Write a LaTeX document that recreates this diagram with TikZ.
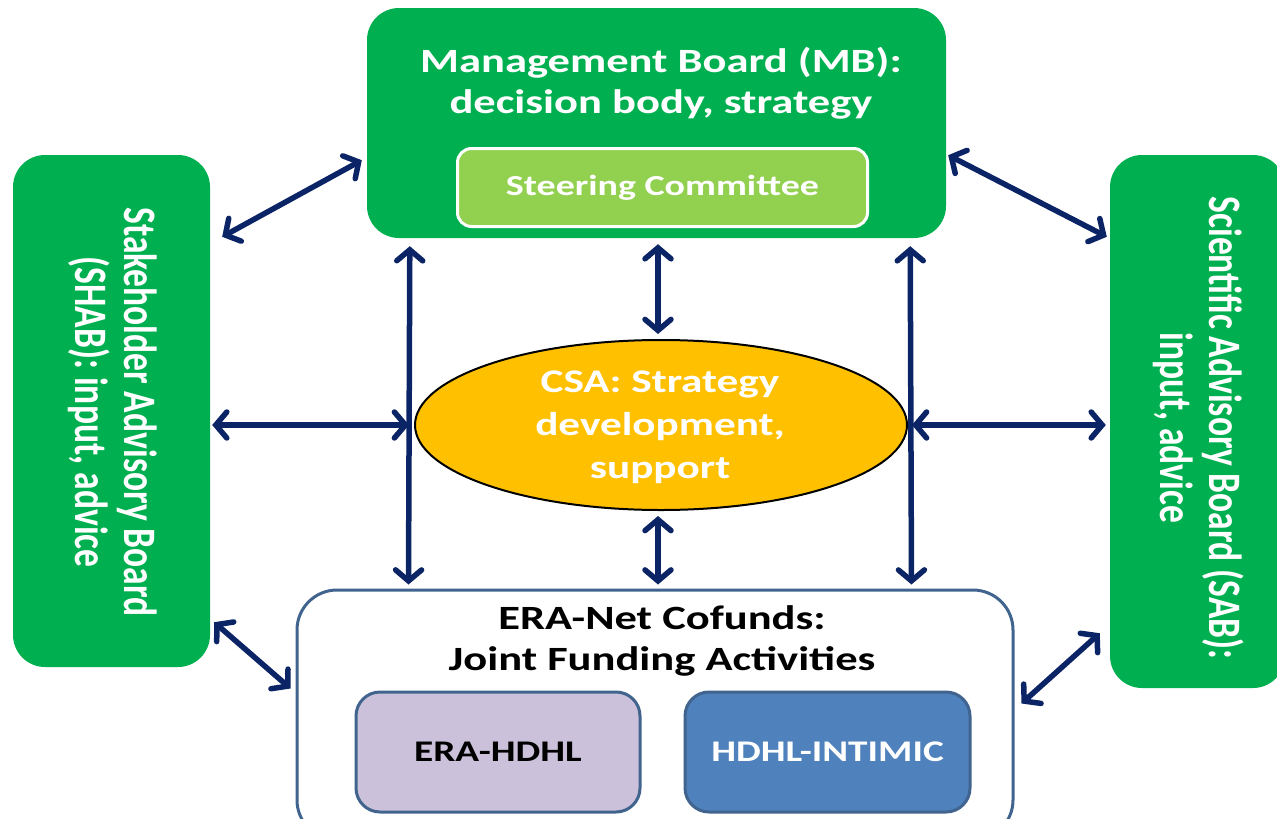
\documentclass[tikz,border=0pt]{standalone}
\usepackage{fontspec}
\usepackage{graphicx}
\setmainfont{Carlito}
\newfontfamily\widefont{Carlito}[FakeStretch=1.31]
\usetikzlibrary{arrows.meta,calc,shapes.geometric}

\definecolor{boardgreen}{HTML}{00B050}
\definecolor{lightgreen}{HTML}{92D050}
\definecolor{csaorange}{HTML}{FFC000}
\definecolor{navy}{HTML}{0A2466}
\definecolor{frameblue}{HTML}{41648F}
\definecolor{lavender}{HTML}{CCC1DA}
\definecolor{midblue}{HTML}{4F81BD}

% rotated, widened two-line label for the side boards
\newcommand{\sidelabel}[2]{%
  \scalebox{1.31}[1]{\rotatebox{-90}{%
    \fontsize{35.5}{38}\selectfont\bfseries
    \begin{tabular}{@{}c@{}}#1\\#2\end{tabular}}}}

\tikzset{
  board/.style={draw=none, fill=boardgreen, rounded corners=32pt, text=white,
    font=\bfseries, align=center, inner sep=0pt},
  txt/.style={align=center, inner sep=0pt},
  link/.style={draw=navy, line width=5.5pt, line cap=round,
    {Straight Barb[length=11pt,width=26pt,line cap=round]}-{Straight Barb[length=11pt,width=26pt,line cap=round]}},
}

\begin{document}
\begin{tikzpicture}[x=1pt,y=-1pt]
\useasboundingbox (0,0) rectangle (1277,819);
\clip (0,0) rectangle (1277,819);

% boards
\node[board, minimum width=579pt, minimum height=230pt] (mb) at (656.5,123) {};
\node[txt, text=white, font=\widefont\fontsize{34}{41}\selectfont\bfseries] (mbtext) at (661,83)
  {Management Board (MB):\\decision body, strategy};
\node[draw=white, line width=3pt, fill=lightgreen, rounded corners=14pt,
  minimum width=410pt, minimum height=78pt, text=white,
  font=\widefont\fontsize{29}{34}\selectfont\bfseries] (steer) at (662.5,187.5) {Steering Committee};

\node[board, minimum width=197pt, minimum height=512pt] (shab) at (111.5,411) {};
\node[txt, text=white] (shabtext) at (110,412)
  {\sidelabel{Stakeholder Advisory Board}{(SHAB): input, advice}};

\node[board, minimum width=175pt, minimum height=533pt] (sab) at (1197.5,421.5) {};
\node[txt, text=white] (sabtext) at (1195,428)
  {\sidelabel{Scientific Advisory Board (SAB):}{input, advice}};

% CSA
\node[ellipse, draw=black, line width=2pt, fill=csaorange, minimum width=492pt,
  minimum height=170pt, inner sep=0pt] (csa) at (661,425) {};
\node[txt, text=white, font=\widefont\fontsize{33}{43}\selectfont\bfseries] (csatext) at (660,427)
  {CSA: Strategy\\development,\\support};

% joint funding
\node[draw=frameblue, line width=3pt, fill=white, rounded corners=40pt,
  minimum width=716pt, minimum height=250pt] (bot) at (655,715) {};
\node[txt, text=black, font=\widefont\fontsize{34}{41}\selectfont\bfseries] (bottext) at (662,641)
  {ERA-Net Cofunds:\\Joint Funding Activities};
\node[draw=frameblue, line width=3pt, fill=lavender, rounded corners=24pt,
  minimum width=284pt, minimum height=120pt, text=black,
  font=\widefont\fontsize{30}{36}\selectfont\bfseries] (hdhl) at (498,752) {ERA-HDHL};
\node[draw=frameblue, line width=3pt, fill=midblue, rounded corners=24pt,
  minimum width=285pt, minimum height=120pt, text=white,
  font=\widefont\fontsize{30}{36}\selectfont\bfseries] (intimic) at (827.5,752) {HDHL-INTIMIC};

% connectors
\draw[link] ($(shab.north east)+(12,82)$) -- ($(mb.south west)+(-5,-78)$);
\draw[link] ($(mb.south east)+(2,-83)$) -- ($(sab.north west)+(-3,82)$);
\draw[link] ($(shab.east)+(2,14)$) -- ($(csa.west)+(-5,0)$);
\draw[link] ($(csa.east)+(4,0)$) -- ($(sab.west |- csa.east)+(-4,0)$);
\draw[link] ($(mb.south west)+(43,8)$) -- ($(bot.north west)+(113,-4)$);
\draw[link] ($(mb.south east)+(-36,8)$) -- ($(bot.north east)+(-103,-4)$);
\draw[link] ($(mb.south -| csa.north)+(-3,6)$) -- ($(csa.north)+(-3,-5)$);
\draw[link] ($(csa.south)+(-3,5)$) -- ($(bot.north -| csa.south)+(-3,-4)$);
\draw[link] ($(shab.south east)+(4,-45)$) -- ($(bot.north west)+(-5,100)$);
\draw[link] ($(bot.north east)+(7,115)$) -- ($(sab.south west)+(-10,-55)$);
\end{tikzpicture}
\end{document}
